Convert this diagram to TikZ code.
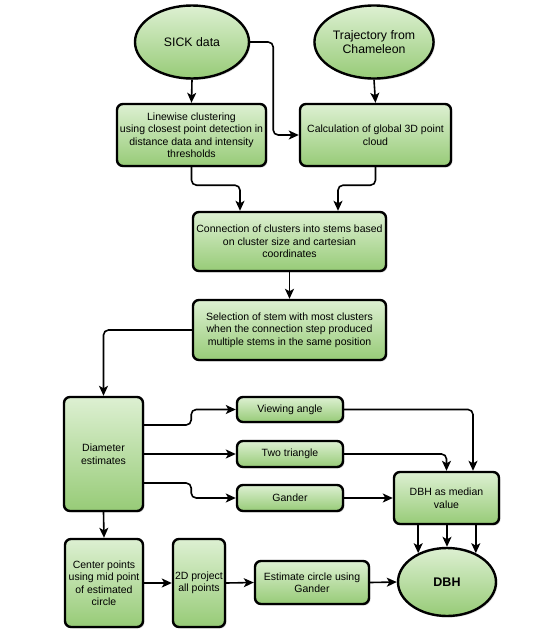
\documentclass[tikz,border=0pt]{standalone}
\usepackage{fontspec}
\setmainfont{Liberation Sans}
\usetikzlibrary{shapes.geometric,arrows.meta,shadows}
\definecolor{gtop}{HTML}{DDF0D2}
\definecolor{gbot}{HTML}{97CB77}
\tikzset{
  base/.style={draw=black, line width=2.4pt, top color=gtop, bottom color=gbot,
    align=center, inner sep=1pt,
    drop shadow={opacity=0.25, shadow xshift=1.5pt, shadow yshift=-1.5pt}},
  box/.style={base, rectangle, rounded corners=6pt, font=\fontsize{10.5}{12.5}\selectfont},
  oval/.style={base, ellipse, font=\fontsize{12.3}{14}\selectfont},
  conn/.style={draw=black, line width=1.6pt, rounded corners=5pt, -{Stealth[length=10pt,width=9pt,inset=2.5pt]}},
}
\begin{document}
\begin{tikzpicture}[x=1pt,y=-1pt]
\useasboundingbox (0,0) rectangle (542,641);
% nodes
\node[oval, minimum width=114pt, minimum height=73pt] (sick) at (192,42) {SICK data};
\node[oval, minimum width=114pt, minimum height=73pt] (traj) at (374,42) {Trajectory from\\Chameleon};
\node[box, minimum width=149pt, minimum height=62pt] (lin) at (191.5,135) {Linewise clustering\\using closest point detection in\\distance data and intensity\\thresholds};
\node[box, minimum width=151pt, minimum height=62pt] (calc) at (375.5,135) {Calculation of global 3D point\\cloud};
\node[box, minimum width=193pt, minimum height=59pt] (conn) at (289.5,241.5) {Connection of clusters into stems based\\on cluster size and cartesian\\coordinates};
\node[box, minimum width=193pt, minimum height=60pt] (sel) at (289.5,330) {Selection of stem with most clusters\\when the connection step produced\\multiple stems in the same position};
\node[box, minimum width=79pt, minimum height=114pt] (diam) at (103.5,454) {Diameter\\estimates};
\node[box, minimum width=106pt, minimum height=25pt] (view) at (290,409.5) {Viewing angle};
\node[box, minimum width=106pt, minimum height=26pt] (two) at (290,454) {Two triangle};
\node[box, minimum width=106pt, minimum height=26pt] (gand) at (290,498) {Gander};
\node[box, minimum width=105pt, minimum height=52pt] (med) at (446.5,498) {DBH as median\\value};
\node[oval, minimum width=98pt, minimum height=68pt, font=\fontsize{12.5}{14}\selectfont\bfseries] (dbh) at (447,582) {DBH};
\node[box, minimum width=78pt, minimum height=88pt] (cent) at (104,583) {Center points\\using mid point\\of estimated\\circle};
\node[box, minimum width=52pt, minimum height=88pt] (proj) at (199,583) {2D project\\all points};
\node[box, minimum width=114pt, minimum height=43pt] (est) at (312,582.5) {Estimate circle using\\Gander};
% connectors
\draw[conn] (sick.south) -- (lin.north);
\draw[conn] (traj.south) -- (calc.north);
\draw[conn] (sick.east) -- ++(23,0) |- (calc.west);
\draw[conn] (lin.south) -- ++(0,18) -| ([xshift=-49.5pt]conn.north);
\draw[conn] (calc.south) -- ++(0,18) -| ([xshift=48.5pt]conn.north);
\draw[conn] (conn.south) -- (sel.north);
\draw[conn] (sel.west) -| (diam.north);
\draw[conn] ([yshift=29pt]diam.east) -- ++(47,0) |- (view.west);
\draw[conn] (diam.east) -- (two.west);
\draw[conn] ([yshift=-29pt]diam.east) -- ++(47,0) |- (gand.west);
\draw[conn] (view.east) -| ([xshift=26.5pt]med.north);
\draw[conn] (two.east) -| (med.north);
\draw[conn] (gand.east) -- (med.west);
\draw[conn] (med.south -| dbh.135) -- (dbh.135);
\draw[conn] (med.south -| dbh.north) -- (dbh.north);
\draw[conn] (med.south -| dbh.45) -- (dbh.45);
\draw[conn] (diam.south) -- (cent.north);
\draw[conn] (cent.east) -- (proj.west);
\draw[conn] (proj.east) -- (est.west);
\draw[conn] (est.east) -- (dbh.west);
\end{tikzpicture}
\end{document}
